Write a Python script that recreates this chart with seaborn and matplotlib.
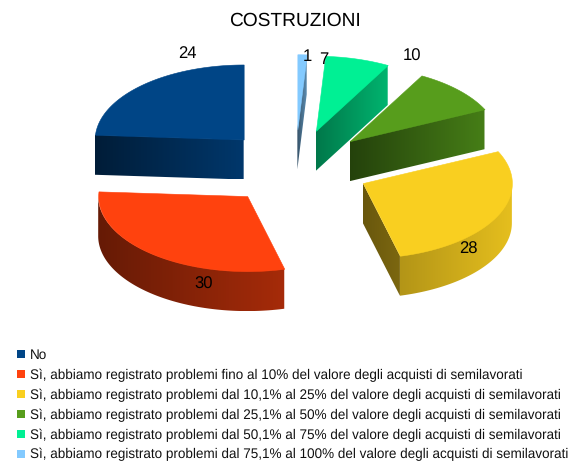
import numpy as np
import seaborn as sns
import matplotlib.pyplot as plt
from matplotlib.collections import PolyCollection
from matplotlib.patches import Patch, Polygon

title = 'COSTRUZIONI'
labels = ['No',
          'Sì, abbiamo registrato problemi fino al 10% del valore degli acquisti di semilavorati',
          'Sì, abbiamo registrato problemi dal 10,1% al 25% del valore degli acquisti di semilavorati',
          'Sì, abbiamo registrato problemi dal 25,1% al 50% del valore degli acquisti di semilavorati',
          'Sì, abbiamo registrato problemi dal 50,1% al 75% del valore degli acquisti di semilavorati',
          'Sì, abbiamo registrato problemi dal 75,1% al 100% del valore degli acquisti di semilavorati']
values = [24, 30, 28, 10, 7, 1]
colors = ['#004586', '#ff420e', '#f9cf20', '#579d1c', '#00f094', '#83caff']

# darkening of the side faces, left to right: (radial cut), (outer rim)
shade_cut = [(0.42, 0.80), (0.4, 0.6), (0.42, 0.5), (0.42, 0.80), (0.5, 0.75), (0.4, 0.7)]
shade_rim = [(0.4, 0.8), (0.40, 0.65), (0.72, 0.92), (0.4, 0.8), (0.5, 0.75), (0.4, 0.7)]

# text positions in pixels
value_pos = [(187, 54), (204, 284), (468, 249), (412, 56), (324, 60), (307, 57)]

cx, cy = 295, 167    # pie centre
rx, ry = 149, 75     # ellipse of the tilted pie
depth = 40
explode = 75

sns.set_theme(style='white')
plt.rcParams['font.family'] = ['Liberation Sans', 'DejaVu Sans']
plt.rcParams['text.hinting'] = 'none'

fig = plt.figure(figsize=(5.72, 4.61), dpi=100)
ax = fig.add_axes([0, 0, 1, 1])
ax.axis('off')


def side_face(edge, lo, hi, base):
    # extruded face below an edge, gradient from left to right
    edge = np.asarray(edge)
    poly = np.vstack([edge, edge[::-1] + [0, depth]])
    shade = np.linspace(lo, hi, 64)[None, :, None]
    grad = shade * np.array(base)[None, None, :]
    im = ax.imshow(grad, extent=[poly[:, 0].min(), poly[:, 0].max(), poly[:, 1].max(), poly[:, 1].min()],
                   aspect='auto', interpolation='bilinear')
    patch = Polygon(poly, closed=True, transform=ax.transData, facecolor='none', edgecolor='none')
    ax.add_patch(patch)
    im.set_clip_path(patch)


def draw_wedge(i, start, end):
    base = sns.color_palette([colors[i]])[0]
    mid = np.radians((start + end) / 2)
    ax0 = cx - explode * np.sin(mid)
    ay0 = cy - explode * ry / rx * np.cos(mid)

    theta = np.radians(np.linspace(start, end, max(int(end - start), 2) + 1))
    arc = np.column_stack([ax0 - rx * np.sin(theta), ay0 - ry * np.cos(theta)])
    apex = np.array([ax0, ay0])

    # radial cuts facing the viewer
    for p0, p1 in [(apex, arc[0]), (arc[-1], apex)]:
        if p1[0] > p0[0]:
            side_face([p0, p1], shade_cut[i][0], shade_cut[i][1], base)
    # outer rim, front half only
    front = arc[np.r_[False, np.diff(arc[:, 0]) > 0] | np.r_[np.diff(arc[:, 0]) > 0, False]]
    if len(front) > 1:
        side_face(front, shade_rim[i][0], shade_rim[i][1], base)

    top = np.vstack([apex, arc])
    ax.add_collection(PolyCollection([top], facecolors=[base], edgecolors=[base], linewidths=0.4, zorder=3))


# counter-clockwise from twelve o'clock
angles = np.concatenate([[0], np.cumsum(values) / np.sum(values) * 360])
for i in range(len(values)):
    draw_wedge(i, angles[i], angles[i + 1])

ax.set_xlim(0, 572)
ax.set_ylim(461, 0)

for v, (x, y) in zip(values, value_pos):
    ax.text(x, y, str(v), ha='center', va='center', fontsize=12, color='black', zorder=5)

ax.text(295, 21, title, ha='center', va='center', fontsize=13.8, color='black')

handles = [Patch(facecolor=c, edgecolor='none') for c in colors]
ax.legend(handles, labels, loc='upper left', bbox_to_anchor=(17 / 572, 1 - 348.5 / 461),
          borderaxespad=0, borderpad=0, frameon=False, fontsize=9.75,
          handlelength=0.6, handleheight=0.6, handletextpad=0.38, labelspacing=0.5,
          labelcolor='#111111')

fig.savefig('out.png', dpi=100)
